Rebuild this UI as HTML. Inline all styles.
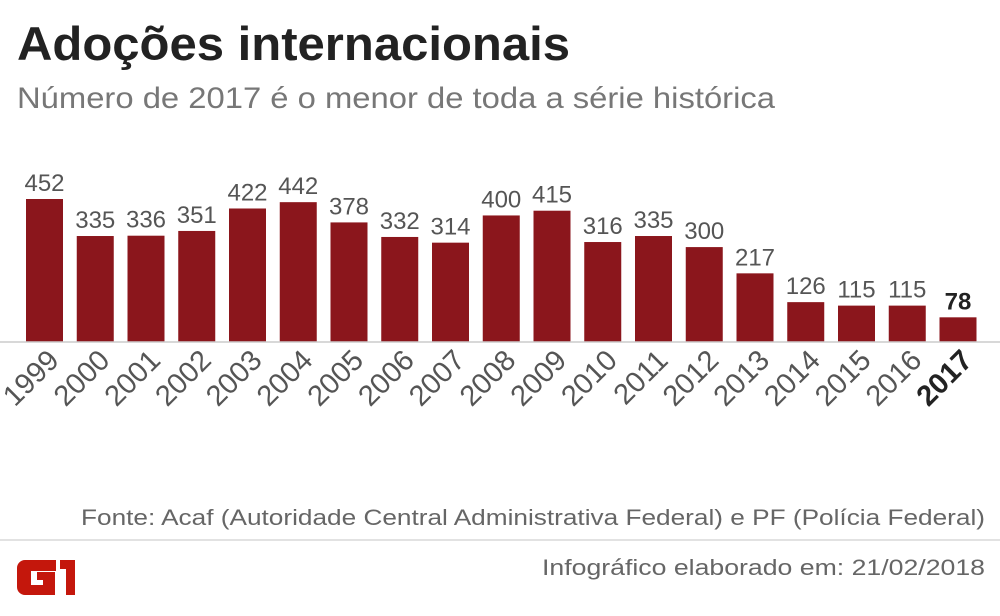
<!DOCTYPE html>
<html><head><meta charset="utf-8"><style>
body{margin:0;background:#fff;}
svg{display:block;font-family:"Liberation Sans",sans-serif;}
</style></head><body>
<svg id="c" width="1000" height="616" viewBox="0 0 1000 616">
<text x="17" y="60" font-size="47" font-weight="bold" fill="#222" textLength="553" lengthAdjust="spacingAndGlyphs">Adoções internacionais</text>
<text x="17" y="108" font-size="30" fill="#777" textLength="758" lengthAdjust="spacingAndGlyphs">Número de 2017 é o menor de toda a série histórica</text>
<g id="bars"></g>
<line x1="0" y1="342" x2="1000" y2="342" stroke="#ccc" stroke-width="1.5"/>
<g id="labels"></g>
<text x="985" y="525" font-size="22" fill="#666" text-anchor="end" textLength="904" lengthAdjust="spacingAndGlyphs">Fonte: Acaf (Autoridade Central Administrativa Federal) e PF (Polícia Federal)</text>
<line x1="0" y1="540" x2="1000" y2="540" stroke="#e2e2e2" stroke-width="2"/>
<g>
<path d="M17 568 a8 8 0 0 1 8 -8 h31 v11 h-25 v14 h12 v-5 h-6 v-8 h18 v23 h-30 a8 8 0 0 1 -8 -8z" fill="#c4170c"/>
<path d="M60 560 h15 v35 h-9 v-26 h-6z" fill="#c4170c"/>
</g>
<text x="985" y="575" font-size="22" fill="#666" text-anchor="end" textLength="443" lengthAdjust="spacingAndGlyphs">Infográfico elaborado em: 21/02/2018</text>
</svg>
<script>
const years=["1999","2000","2001","2002","2003","2004","2005","2006","2007","2008","2009","2010","2011","2012","2013","2014","2015","2016","2017"];
const values=[452,335,336,351,422,442,378,332,314,400,415,316,335,300,217,126,115,115,78];
const NS="http://www.w3.org/2000/svg";
const x0=26,step=50.75,bw=37,base=342,k=143/452;
const xs=i=>x0+i*step;
const ys=v=>base-v*k;
const bars=document.getElementById('bars'),labs=document.getElementById('labels');
years.forEach((y,i)=>{
 const last=i===years.length-1;
 const r=document.createElementNS(NS,'rect');
 r.setAttribute('x',xs(i));r.setAttribute('y',ys(values[i]));r.setAttribute('width',bw);r.setAttribute('height',base-ys(values[i]));r.setAttribute('fill','#8b161c');
 
 
 bars.appendChild(r);
 const t=document.createElementNS(NS,'text');
 t.setAttribute('x',xs(i)+bw/2);t.setAttribute('y',ys(values[i])-8);t.setAttribute('text-anchor','middle');t.setAttribute('font-size','24');
 t.setAttribute('fill',last?'#222':'#555');if(last)t.setAttribute('font-weight','bold');
 t.textContent=values[i];
 
 
 bars.appendChild(t);
 const l=document.createElementNS(NS,'text');
 const cx=xs(i)+bw/2+16,cy=362;
 l.setAttribute('x',cx);l.setAttribute('y',cy);l.setAttribute('text-anchor','end');l.setAttribute('font-size','29');
 l.setAttribute('transform','rotate(-45 '+cx+' '+cy+')');
 l.setAttribute('fill',last?'#222':'#555');if(last)l.setAttribute('font-weight','bold');
 l.textContent=y;
 
 
 labs.appendChild(l);
});
</script>
</body></html>
